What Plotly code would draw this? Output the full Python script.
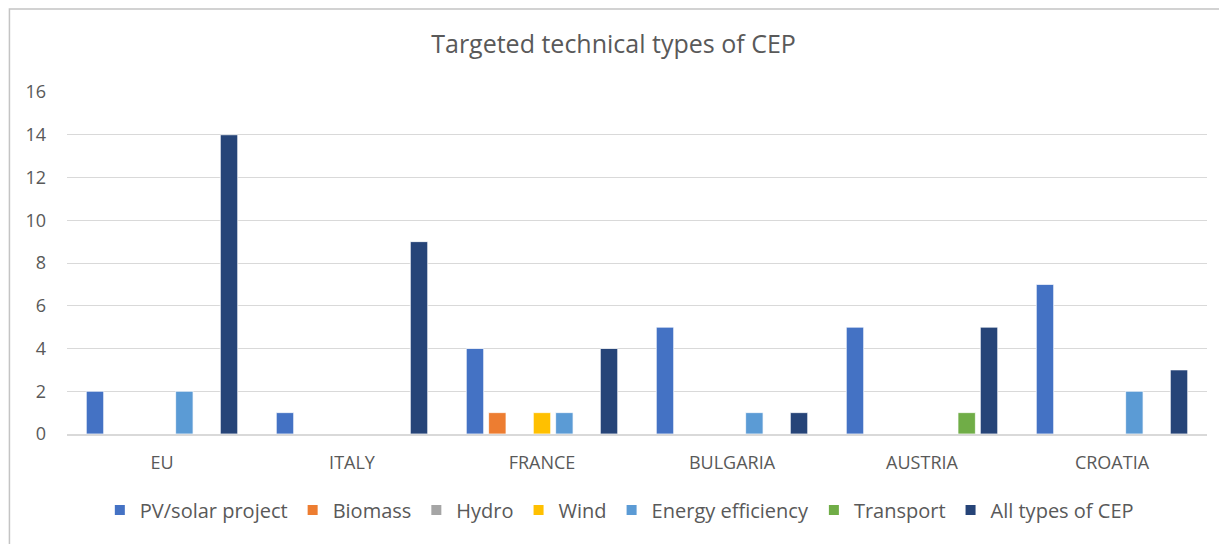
import plotly.graph_objects as go

countries = ["EU", "ITALY", "FRANCE", "BULGARIA", "AUSTRIA", "CROATIA"]

pv_solar = [2, 1, 4, 5, 5, 7]
biomass = [0, 0, 1, 0, 0, 0]
hydro = [0, 0, 0, 0, 0, 0]
wind = [0, 0, 1, 0, 0, 0]
energy_eff = [2, 0, 1, 1, 0, 2]
transport = [0, 0, 0, 0, 1, 0]
all_types = [14, 9, 4, 1, 5, 3]

series = [
    ("PV/solar project", pv_solar, "#4472C4"),
    ("Biomass", biomass, "#ED7D31"),
    ("Hydro", hydro, "#A5A5A5"),
    ("Wind", wind, "#FFC000"),
    ("Energy efficiency", energy_eff, "#5B9BD5"),
    ("Transport", transport, "#70AD47"),
    ("All types of CEP", all_types, "#264478"),
]

FONT = "Open Sans"
GREY = "#595959"

fig = go.Figure()
for name, vals, col in series:
    fig.add_trace(go.Bar(
        x=countries, y=vals, name=name,
        marker=dict(color=col, line=dict(color="white", width=0.75)),
    ))

# outer chart border, just inside the top/left edge of the figure
fig.add_shape(type="rect", xref="paper", yref="paper",
              x0=-0.0505, x1=1.05, y0=-0.4, y1=1.2425,
              line=dict(color="#C4C4C4", width=1.5), layer="below")

# the page adds an 8px body margin, margins below compensate for it
fig.update_layout(
    width=1227, height=544,
    margin=dict(l=59, r=28, t=84, b=118),
    paper_bgcolor="white", plot_bgcolor="white",
    font=dict(family=FONT, color=GREY, size=17),
    title=dict(text="Targeted technical types of CEP", x=0.4935, xanchor="center",
               y=0.934, yanchor="middle",
               font=dict(family=FONT, size=25, color=GREY)),
    barmode="group", bargap=0.177, bargroupgap=0.22,
    showlegend=True,
    legend=dict(orientation="h", x=0.4845, xanchor="center", y=-0.222, yanchor="middle",
                font=dict(family=FONT, size=20, color=GREY),
                itemsizing="constant", traceorder="normal"),
    xaxis=dict(showgrid=False, showline=True, linecolor="#D9D9D9", linewidth=1.5,
               ticks="", tickfont=dict(size=18, color=GREY), ticklabelstandoff=12),
    yaxis=dict(range=[0, 16], dtick=2, showgrid=True, gridcolor="#D9D9D9", gridwidth=1.2,
               zeroline=False, showline=False, ticks="",
               tickfont=dict(size=18, color=GREY), ticklabelstandoff=20),
)

fig.write_html("out.html")
